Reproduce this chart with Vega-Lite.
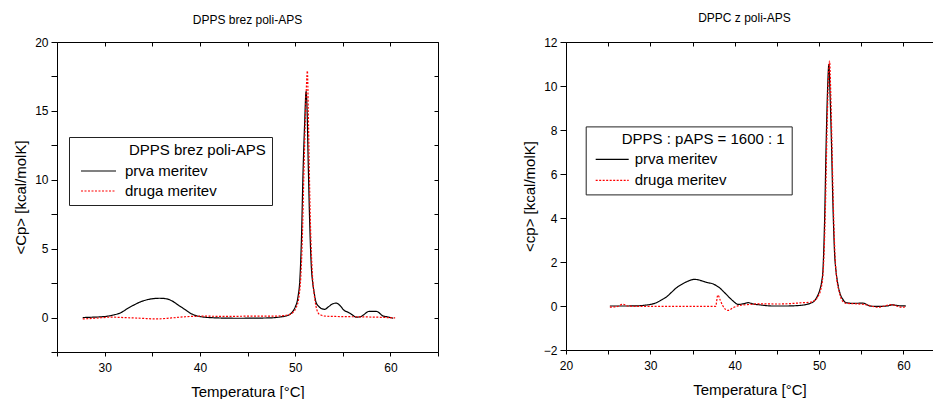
{
  "$schema": "https://vega.github.io/schema/vega-lite/v6.json",
  "padding": {"left": 13, "top": 11, "right": 0, "bottom": 0},
  "spacing": 83,
  "datasets": {
    "left": [
      {"T": 27.7, "v": 0, "s": "prva meritev"},
      {"T": 28.5, "v": 0.02, "s": "prva meritev"},
      {"T": 29.5, "v": 0.05, "s": "prva meritev"},
      {"T": 30.5, "v": 0.12, "s": "prva meritev"},
      {"T": 31.0, "v": 0.2, "s": "prva meritev"},
      {"T": 31.7, "v": 0.35, "s": "prva meritev"},
      {"T": 32.4, "v": 0.65, "s": "prva meritev"},
      {"T": 33.1, "v": 0.92, "s": "prva meritev"},
      {"T": 33.8, "v": 1.15, "s": "prva meritev"},
      {"T": 34.5, "v": 1.3, "s": "prva meritev"},
      {"T": 35.2, "v": 1.38, "s": "prva meritev"},
      {"T": 35.8, "v": 1.4, "s": "prva meritev"},
      {"T": 36.5, "v": 1.36, "s": "prva meritev"},
      {"T": 37.1, "v": 1.2, "s": "prva meritev"},
      {"T": 37.7, "v": 0.92, "s": "prva meritev"},
      {"T": 38.4, "v": 0.6, "s": "prva meritev"},
      {"T": 39.1, "v": 0.28, "s": "prva meritev"},
      {"T": 39.7, "v": 0.12, "s": "prva meritev"},
      {"T": 40.3, "v": 0.04, "s": "prva meritev"},
      {"T": 41.0, "v": 0.0, "s": "prva meritev"},
      {"T": 42.0, "v": -0.03, "s": "prva meritev"},
      {"T": 44.0, "v": -0.05, "s": "prva meritev"},
      {"T": 46.0, "v": -0.04, "s": "prva meritev"},
      {"T": 47.5, "v": -0.02, "s": "prva meritev"},
      {"T": 48.5, "v": 0.05, "s": "prva meritev"},
      {"T": 49.2, "v": 0.15, "s": "prva meritev"},
      {"T": 49.7, "v": 0.4, "s": "prva meritev"},
      {"T": 50.0, "v": 0.75, "s": "prva meritev"},
      {"T": 50.3, "v": 1.5, "s": "prva meritev"},
      {"T": 50.5, "v": 2.8, "s": "prva meritev"},
      {"T": 50.66, "v": 5.6, "s": "prva meritev"},
      {"T": 50.83, "v": 10.5, "s": "prva meritev"},
      {"T": 51.0, "v": 14.1, "s": "prva meritev"},
      {"T": 51.15, "v": 16.4, "s": "prva meritev"},
      {"T": 51.25, "v": 15.2, "s": "prva meritev"},
      {"T": 51.36, "v": 11.7, "s": "prva meritev"},
      {"T": 51.53, "v": 6.9, "s": "prva meritev"},
      {"T": 51.7, "v": 3.7, "s": "prva meritev"},
      {"T": 51.85, "v": 2.5, "s": "prva meritev"},
      {"T": 52.0, "v": 1.8, "s": "prva meritev"},
      {"T": 52.2, "v": 1.1, "s": "prva meritev"},
      {"T": 52.5, "v": 0.8, "s": "prva meritev"},
      {"T": 52.8, "v": 0.64, "s": "prva meritev"},
      {"T": 53.1, "v": 0.6, "s": "prva meritev"},
      {"T": 53.5, "v": 0.78, "s": "prva meritev"},
      {"T": 53.9, "v": 0.98, "s": "prva meritev"},
      {"T": 54.3, "v": 1.05, "s": "prva meritev"},
      {"T": 54.7, "v": 0.88, "s": "prva meritev"},
      {"T": 55.1, "v": 0.55, "s": "prva meritev"},
      {"T": 55.6, "v": 0.37, "s": "prva meritev"},
      {"T": 56.0, "v": 0.2, "s": "prva meritev"},
      {"T": 56.4, "v": 0.03, "s": "prva meritev"},
      {"T": 56.8, "v": 0.05, "s": "prva meritev"},
      {"T": 57.2, "v": 0.2, "s": "prva meritev"},
      {"T": 57.7, "v": 0.44, "s": "prva meritev"},
      {"T": 58.1, "v": 0.45, "s": "prva meritev"},
      {"T": 58.6, "v": 0.44, "s": "prva meritev"},
      {"T": 58.9, "v": 0.3, "s": "prva meritev"},
      {"T": 59.2, "v": 0.12, "s": "prva meritev"},
      {"T": 59.7, "v": 0.05, "s": "prva meritev"},
      {"T": 60.3, "v": -0.05, "s": "prva meritev"},
      {"T": 27.7, "v": -0.1, "s": "druga meritev"},
      {"T": 29.0, "v": -0.05, "s": "druga meritev"},
      {"T": 30.7, "v": 0.03, "s": "druga meritev"},
      {"T": 32.0, "v": 0.0, "s": "druga meritev"},
      {"T": 33.8, "v": -0.05, "s": "druga meritev"},
      {"T": 35.5, "v": -0.1, "s": "druga meritev"},
      {"T": 37.0, "v": -0.03, "s": "druga meritev"},
      {"T": 38.5, "v": 0.06, "s": "druga meritev"},
      {"T": 40.5, "v": 0.1, "s": "druga meritev"},
      {"T": 43.0, "v": 0.08, "s": "druga meritev"},
      {"T": 45.0, "v": 0.1, "s": "druga meritev"},
      {"T": 47.0, "v": 0.1, "s": "druga meritev"},
      {"T": 48.5, "v": 0.12, "s": "druga meritev"},
      {"T": 49.3, "v": 0.2, "s": "druga meritev"},
      {"T": 49.8, "v": 0.4, "s": "druga meritev"},
      {"T": 50.1, "v": 0.7, "s": "druga meritev"},
      {"T": 50.4, "v": 1.5, "s": "druga meritev"},
      {"T": 50.6, "v": 3.0, "s": "druga meritev"},
      {"T": 50.75, "v": 5.6, "s": "druga meritev"},
      {"T": 50.92, "v": 10.5, "s": "druga meritev"},
      {"T": 51.08, "v": 14.5, "s": "druga meritev"},
      {"T": 51.2, "v": 17.0, "s": "druga meritev"},
      {"T": 51.29, "v": 17.9, "s": "druga meritev"},
      {"T": 51.38, "v": 15.0, "s": "druga meritev"},
      {"T": 51.48, "v": 11.0, "s": "druga meritev"},
      {"T": 51.62, "v": 6.5, "s": "druga meritev"},
      {"T": 51.8, "v": 3.3, "s": "druga meritev"},
      {"T": 52.0, "v": 1.7, "s": "druga meritev"},
      {"T": 52.2, "v": 0.8, "s": "druga meritev"},
      {"T": 52.4, "v": 0.35, "s": "druga meritev"},
      {"T": 52.7, "v": 0.18, "s": "druga meritev"},
      {"T": 53.2, "v": 0.1, "s": "druga meritev"},
      {"T": 55.0, "v": 0.07, "s": "druga meritev"},
      {"T": 57.0, "v": 0.05, "s": "druga meritev"},
      {"T": 59.0, "v": 0.02, "s": "druga meritev"},
      {"T": 60.5, "v": -0.03, "s": "druga meritev"}
    ],
    "right": [
      {"T": 25.2, "v": 0, "s": "prva meritev"},
      {"T": 27.0, "v": 0, "s": "prva meritev"},
      {"T": 28.5, "v": 0.01, "s": "prva meritev"},
      {"T": 29.2, "v": 0.03, "s": "prva meritev"},
      {"T": 30.0, "v": 0.07, "s": "prva meritev"},
      {"T": 30.7, "v": 0.15, "s": "prva meritev"},
      {"T": 31.3, "v": 0.27, "s": "prva meritev"},
      {"T": 31.9, "v": 0.41, "s": "prva meritev"},
      {"T": 32.5, "v": 0.62, "s": "prva meritev"},
      {"T": 33.1, "v": 0.83, "s": "prva meritev"},
      {"T": 33.7, "v": 0.98, "s": "prva meritev"},
      {"T": 34.3, "v": 1.1, "s": "prva meritev"},
      {"T": 34.8, "v": 1.18, "s": "prva meritev"},
      {"T": 35.25, "v": 1.21, "s": "prva meritev"},
      {"T": 35.7, "v": 1.19, "s": "prva meritev"},
      {"T": 36.2, "v": 1.13, "s": "prva meritev"},
      {"T": 36.8, "v": 1.06, "s": "prva meritev"},
      {"T": 37.4, "v": 1.01, "s": "prva meritev"},
      {"T": 37.8, "v": 0.93, "s": "prva meritev"},
      {"T": 38.2, "v": 0.83, "s": "prva meritev"},
      {"T": 38.6, "v": 0.68, "s": "prva meritev"},
      {"T": 39.0, "v": 0.53, "s": "prva meritev"},
      {"T": 39.4, "v": 0.37, "s": "prva meritev"},
      {"T": 39.8, "v": 0.23, "s": "prva meritev"},
      {"T": 40.1, "v": 0.13, "s": "prva meritev"},
      {"T": 40.4, "v": 0.07, "s": "prva meritev"},
      {"T": 41.0, "v": 0.1, "s": "prva meritev"},
      {"T": 41.6, "v": 0.15, "s": "prva meritev"},
      {"T": 42.2, "v": 0.09, "s": "prva meritev"},
      {"T": 43.0, "v": 0.05, "s": "prva meritev"},
      {"T": 44.5, "v": 0.0, "s": "prva meritev"},
      {"T": 46.0, "v": 0.0, "s": "prva meritev"},
      {"T": 47.5, "v": 0.02, "s": "prva meritev"},
      {"T": 48.5, "v": 0.07, "s": "prva meritev"},
      {"T": 49.0, "v": 0.13, "s": "prva meritev"},
      {"T": 49.47, "v": 0.24, "s": "prva meritev"},
      {"T": 49.8, "v": 0.45, "s": "prva meritev"},
      {"T": 50.06, "v": 0.7, "s": "prva meritev"},
      {"T": 50.3, "v": 1.1, "s": "prva meritev"},
      {"T": 50.45, "v": 1.6, "s": "prva meritev"},
      {"T": 50.65, "v": 3.87, "s": "prva meritev"},
      {"T": 50.85, "v": 7.65, "s": "prva meritev"},
      {"T": 51.0, "v": 9.8, "s": "prva meritev"},
      {"T": 51.16, "v": 10.98, "s": "prva meritev"},
      {"T": 51.3, "v": 9.6, "s": "prva meritev"},
      {"T": 51.45, "v": 7.65, "s": "prva meritev"},
      {"T": 51.64, "v": 4.6, "s": "prva meritev"},
      {"T": 51.84, "v": 2.35, "s": "prva meritev"},
      {"T": 52.0, "v": 1.6, "s": "prva meritev"},
      {"T": 52.23, "v": 0.98, "s": "prva meritev"},
      {"T": 52.5, "v": 0.55, "s": "prva meritev"},
      {"T": 52.82, "v": 0.3, "s": "prva meritev"},
      {"T": 53.2, "v": 0.15, "s": "prva meritev"},
      {"T": 54.0, "v": 0.12, "s": "prva meritev"},
      {"T": 55.2, "v": 0.13, "s": "prva meritev"},
      {"T": 55.6, "v": 0.08, "s": "prva meritev"},
      {"T": 56.0, "v": 0.0, "s": "prva meritev"},
      {"T": 57.0, "v": -0.02, "s": "prva meritev"},
      {"T": 58.0, "v": 0.0, "s": "prva meritev"},
      {"T": 58.7, "v": 0.05, "s": "prva meritev"},
      {"T": 59.3, "v": 0.02, "s": "prva meritev"},
      {"T": 60.3, "v": 0.0, "s": "prva meritev"},
      {"T": 25.2, "v": -0.05, "s": "druga meritev"},
      {"T": 26.0, "v": -0.03, "s": "druga meritev"},
      {"T": 26.75, "v": 0.08, "s": "druga meritev"},
      {"T": 27.3, "v": 0.0, "s": "druga meritev"},
      {"T": 29.0, "v": -0.02, "s": "druga meritev"},
      {"T": 33.0, "v": -0.02, "s": "druga meritev"},
      {"T": 37.73, "v": -0.02, "s": "druga meritev"},
      {"T": 38.0, "v": 0.5, "s": "druga meritev"},
      {"T": 38.3, "v": 0.25, "s": "druga meritev"},
      {"T": 38.6, "v": 0.0, "s": "druga meritev"},
      {"T": 39.2, "v": -0.2, "s": "druga meritev"},
      {"T": 39.8, "v": -0.08, "s": "druga meritev"},
      {"T": 40.6, "v": 0.03, "s": "druga meritev"},
      {"T": 41.8, "v": 0.07, "s": "druga meritev"},
      {"T": 43.0, "v": 0.1, "s": "druga meritev"},
      {"T": 45.0, "v": 0.09, "s": "druga meritev"},
      {"T": 47.0, "v": 0.12, "s": "druga meritev"},
      {"T": 48.0, "v": 0.15, "s": "druga meritev"},
      {"T": 48.9, "v": 0.17, "s": "druga meritev"},
      {"T": 49.5, "v": 0.26, "s": "druga meritev"},
      {"T": 49.9, "v": 0.45, "s": "druga meritev"},
      {"T": 50.2, "v": 0.75, "s": "druga meritev"},
      {"T": 50.45, "v": 1.4, "s": "druga meritev"},
      {"T": 50.6, "v": 2.5, "s": "druga meritev"},
      {"T": 50.75, "v": 4.5, "s": "druga meritev"},
      {"T": 50.95, "v": 8.2, "s": "druga meritev"},
      {"T": 51.1, "v": 10.3, "s": "druga meritev"},
      {"T": 51.24, "v": 11.13, "s": "druga meritev"},
      {"T": 51.38, "v": 9.7, "s": "druga meritev"},
      {"T": 51.52, "v": 7.4, "s": "druga meritev"},
      {"T": 51.7, "v": 4.4, "s": "druga meritev"},
      {"T": 51.9, "v": 2.2, "s": "druga meritev"},
      {"T": 52.1, "v": 1.2, "s": "druga meritev"},
      {"T": 52.35, "v": 0.7, "s": "druga meritev"},
      {"T": 52.6, "v": 0.35, "s": "druga meritev"},
      {"T": 52.9, "v": 0.18, "s": "druga meritev"},
      {"T": 53.3, "v": 0.12, "s": "druga meritev"},
      {"T": 54.5, "v": 0.1, "s": "druga meritev"},
      {"T": 55.5, "v": 0.06, "s": "druga meritev"},
      {"T": 56.5, "v": -0.03, "s": "druga meritev"},
      {"T": 57.0, "v": -0.06, "s": "druga meritev"},
      {"T": 57.7, "v": 0.0, "s": "druga meritev"},
      {"T": 58.5, "v": 0.06, "s": "druga meritev"},
      {"T": 59.2, "v": 0.0, "s": "druga meritev"},
      {"T": 59.8, "v": -0.06, "s": "druga meritev"},
      {"T": 60.3, "v": -0.03, "s": "druga meritev"}
    ]
  },
  "hconcat": [
    {
      "title": {"text": "DPPS brez poli-APS", "offset": 9, "frame": "group", "anchor": "middle"},
      "width": 381,
      "height": 310,
      "data": {"name": "left"},
      "layer": [
        {
          "mark": {"type": "line", "interpolate": "monotone", "strokeWidth": 1.2},
          "encoding": {
            "x": {"field": "T", "type": "quantitative", "scale": {"domain": [25, 65], "nice": false, "zero": false},
                  "axis": {"orient": "bottom", "title": "Temperatura [°C]", "values": [25, 30, 35, 40, 45, 50, 55, 60, 65], "labelExpr": "datum.value % 10 === 0 ? datum.label : ''", "tickSize": 4, "labelPadding": 6, "titlePadding": 11, "labelFlush": false}},
            "y": {"field": "v", "type": "quantitative", "scale": {"domain": [-2.5, 20], "nice": false, "zero": false},
                  "axis": {"orient": "left", "title": "<Cp> [kcal/molK]", "values": [-2.5, 0, 2.5, 5, 7.5, 10, 12.5, 15, 17.5, 20], "labelExpr": "datum.value % 5 === 0 ? datum.label : ''", "tickSize": 6, "labelPadding": 3, "titlePadding": 6}},
            "color": {"field": "s", "type": "nominal", "scale": {"domain": ["prva meritev", "druga meritev"], "range": ["#000000", "#ff0000"]},
                      "legend": {"title": "DPPS brez poli-APS", "orient": "none", "legendX": 12, "legendY": 95, "symbolType": "M-5.385,0H0", "symbolSize": 169, "symbolOffset": 33.5, "labelOffset": 1.5, "rowPadding": 4, "titlePadding": 5.5, "padding": 6,
                                 "encode": {"title": {"update": {"dx": {"value": 54}}}, "symbols": {"update": {"stroke": {"signal": "datum.value === 'druga meritev' ? '#ff0000' : '#000000'"}, "strokeDash": {"signal": "datum.value === 'druga meritev' ? [2, 1.5] : [1, 0]"}}}}}},
            "strokeDash": {"field": "s", "type": "nominal", "scale": {"domain": ["prva meritev", "druga meritev"], "range": [[1, 0], [2, 1.5]]}, "legend": null}
          }
        },
        {
          "mark": {"type": "line", "opacity": 0},
          "encoding": {
            "x": {"field": "T", "type": "quantitative", "scale": {"domain": [25, 65], "nice": false, "zero": false},
                  "axis": {"orient": "top", "title": null, "values": [25, 30, 35, 40, 45, 50, 55, 60, 65], "labels": false, "tickSize": -4}},
            "y": {"field": "v", "type": "quantitative", "scale": {"domain": [-2.5, 20], "nice": false, "zero": false},
                  "axis": {"orient": "right", "title": null, "values": [-2.5, 0, 2.5, 5, 7.5, 10, 12.5, 15, 17.5, 20], "labels": false, "tickSize": -4}}
          }
        }
      ],
      "resolve": {"axis": {"x": "independent", "y": "independent"}}
    },
    {
      "title": {"text": "DPPC z poli-APS", "offset": 11.3, "frame": "group", "anchor": "middle", "dx": -5},
      "width": 367,
      "height": 308,
      "data": {"name": "right"},
      "layer": [
        {
          "mark": {"type": "line", "interpolate": "monotone", "strokeWidth": 1.2},
          "encoding": {
            "x": {"field": "T", "type": "quantitative", "scale": {"domain": [20, 63.5], "nice": false, "zero": false},
                  "axis": {"orient": "bottom", "title": "Temperatura [°C]", "values": [20, 25, 30, 35, 40, 45, 50, 55, 60], "labelExpr": "datum.value % 10 === 0 ? datum.label : ''", "tickSize": 4, "labelPadding": 6, "titlePadding": 11, "labelFlush": false}},
            "y": {"field": "v", "type": "quantitative", "scale": {"domain": [-2, 12], "nice": false, "zero": false},
                  "axis": {"orient": "left", "title": "<cp> [kcal/molK]", "values": [-2, -1, 0, 1, 2, 3, 4, 5, 6, 7, 8, 9, 10, 11, 12], "labelExpr": "datum.value % 2 === 0 ? datum.label : ''", "tickSize": 6, "labelPadding": 3, "titlePadding": 6}},
            "color": {"field": "s", "type": "nominal", "scale": {"domain": ["prva meritev", "druga meritev"], "range": ["#000000", "#ff0000"]},
                      "legend": {"title": "DPPS : pAPS = 1600 : 1", "orient": "none", "legendX": 19.7, "legendY": 84.4, "symbolType": "M-5.08,0H0", "symbolSize": 169, "symbolOffset": 29.5, "labelOffset": -1.5, "rowPadding": 5, "titlePadding": 4.5, "padding": 6,
                                 "encode": {"title": {"update": {"dx": {"value": 30}}}, "symbols": {"update": {"stroke": {"signal": "datum.value === 'druga meritev' ? '#ff0000' : '#000000'"}, "strokeDash": {"signal": "datum.value === 'druga meritev' ? [2, 1.5] : [1, 0]"}}}}}},
            "strokeDash": {"field": "s", "type": "nominal", "scale": {"domain": ["prva meritev", "druga meritev"], "range": [[1, 0], [2, 1.5]]}, "legend": null}
          }
        },
        {
          "mark": {"type": "line", "opacity": 0},
          "encoding": {
            "x": {"field": "T", "type": "quantitative", "scale": {"domain": [20, 63.5], "nice": false, "zero": false},
                  "axis": {"orient": "top", "title": null, "values": [20, 25, 30, 35, 40, 45, 50, 55, 60], "labels": false, "tickSize": -4}},
            "y": {"field": "v", "type": "quantitative", "scale": {"domain": [-2, 12], "nice": false, "zero": false}}
          }
        }
      ],
      "resolve": {"axis": {"x": "independent", "y": "shared"}}
    }
  ],
  "resolve": {
    "scale": {"x": "independent", "y": "independent", "color": "independent", "strokeDash": "independent"},
    "legend": {"color": "independent", "strokeDash": "independent"}
  },
  "config": {
    "font": "Liberation Sans",
    "view": {"stroke": null},
    "axis": {"grid": false, "domainColor": "#000000", "tickColor": "#000000", "labelColor": "#000000", "titleColor": "#000000", "labelFontSize": 12, "titleFontSize": 15, "titleFontWeight": "normal", "labelFont": "Liberation Sans", "titleFont": "Liberation Sans", "domainWidth": 1, "tickWidth": 1},
    "title": {"fontSize": 12, "fontWeight": "normal", "color": "#000000", "font": "Liberation Sans"},
    "legend": {"strokeColor": "#222222", "fillColor": "#ffffff", "labelFontSize": 15, "titleFontSize": 15, "titleFontWeight": "normal", "labelFont": "Liberation Sans", "titleFont": "Liberation Sans", "labelColor": "#000000", "titleColor": "#000000", "titleAnchor": "start", "symbolStrokeWidth": 1.2}
  }
}
